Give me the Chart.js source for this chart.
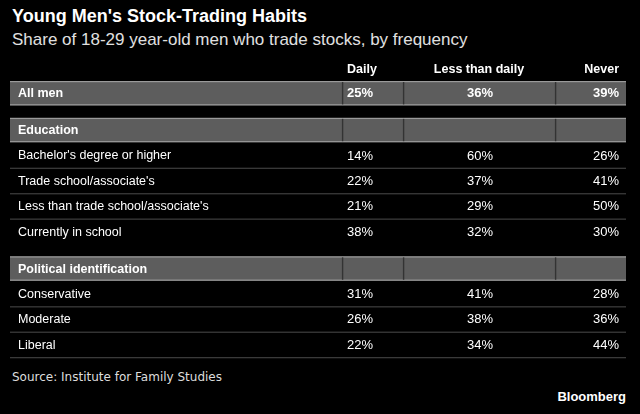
<!DOCTYPE html>
<html><head><meta charset="utf-8">
<script src="https://cdn.jsdelivr.net/npm/chart.js@4"></script>
<style>
html,body{margin:0;padding:0;background:#000;}
#wrap{position:relative;width:640px;height:414px;background:#000;overflow:hidden;font-family:"Liberation Sans",Arial,sans-serif;}
#t{position:absolute;left:12px;top:6px;color:#fff;font-size:18px;font-weight:bold;}
#s{position:absolute;left:12px;top:30px;color:#e0e0e0;font-size:17px;font-family:"Liberation Sans";}
#src{position:absolute;left:12px;top:370px;color:#ddd;font-size:12px;font-family:"DejaVu Sans";}
#bb{position:absolute;right:14px;top:389px;color:#fff;font-size:13px;font-weight:bold;}
canvas{position:absolute;left:0;top:0;}
</style></head><body>
<div id="wrap">
<div id="t">Young Men's Stock-Trading Habits</div>
<div id="s">Share of 18-29 year-old men who trade stocks, by frequency</div>
<div id="src">Source: Institute for Family Studies</div>
<div id="bb">Bloomberg</div>
<div style="position:absolute;left:0;top:0;width:640px;height:414px"><canvas id="c"></canvas></div>
</div>
<script>
const columns = ["Daily", "Less than daily", "Never"];
const rowLabels = ["All men","Education","Bachelor's degree or higher","Trade school/associate's","Less than trade school/associate's","Currently in school","Political identification","Conservative","Moderate","Liberal"];
const rowGroups = [0,1,1,1,1,1,2,2,2,2];
const rowIsBand = [true,true,false,false,false,false,true,false,false,false];
const daily = [25,null,14,22,21,38,null,31,26,22];
const lessThanDaily = [36,null,60,37,29,32,null,41,38,34];
const never = [39,null,26,41,50,30,null,28,36,44];

const rowPos = rowLabels.map((_,i)=>i+rowGroups[i]*0.45);

const tablePlugin={id:'table',afterDraw(chart){
  const ctx=chart.ctx, x=chart.scales.x, y=chart.scales.y;
  const unit=Math.abs(y.getPixelForValue(1)-y.getPixelForValue(0));
  const L=x.getPixelForValue(10), R=x.getPixelForValue(626);
  const seps=[342.5,403.5,555.5].map(v=>x.getPixelForValue(v));
  ctx.save();
  ctx.fillStyle='#fff';ctx.font='bold 12.5px "Liberation Sans"';ctx.textBaseline='middle';
  const hy=y.getPixelForValue(-0.95);
  ctx.textAlign='left';ctx.fillText(columns[0],x.getPixelForValue(347),hy);
  ctx.textAlign='center';ctx.fillText(columns[1],x.getPixelForValue(479),hy);
  ctx.textAlign='right';ctx.fillText(columns[2],x.getPixelForValue(619),hy);
  rowLabels.forEach((lab,i)=>{
    const cy=y.getPixelForValue(rowPos[i]);
    const top=cy-unit/2, h=unit-1;
    if(rowIsBand[i]){
      ctx.fillStyle='#5d5d5d';ctx.fillRect(L,top,R-L,h);
      ctx.fillStyle='#9a9a9a';ctx.fillRect(L,top,R-L,1.2);ctx.fillRect(L,top+h-1.2,R-L,1.2);
      ctx.fillStyle='#333';seps.forEach(s=>ctx.fillRect(s-0.6,top+1,1.4,h-2));
    } else if(i===rowLabels.length-1 || !rowIsBand[i+1]){
      ctx.fillStyle='#3a3a3a';ctx.fillRect(L,cy+unit/2-1,R-L,1.3);
    }
    ctx.fillStyle='#fff';
    ctx.font=(rowIsBand[i]?'bold ':'')+'12.5px "Liberation Sans"';
    ctx.textAlign='left';ctx.fillText(lab,x.getPixelForValue(18),cy);
    ctx.font=(i===0?'bold ':'')+'13px "Liberation Sans"';
    if(daily[i]!=null){ctx.textAlign='left';ctx.fillText(daily[i]+'%',x.getPixelForValue(347),cy);}
    if(lessThanDaily[i]!=null){ctx.textAlign='center';ctx.fillText(lessThanDaily[i]+'%',x.getPixelForValue(480),cy);}
    if(never[i]!=null){ctx.textAlign='right';ctx.fillText(never[i]+'%',x.getPixelForValue(619),cy);}
  });
  ctx.restore();
}};

new Chart(document.getElementById('c'),{
  type:'scatter',
  data:{datasets:[{data:rowPos.map(p=>({x:0,y:p})),pointRadius:0,showLine:false}]},
  options:{responsive:true,maintainAspectRatio:false,animation:false,
    layout:{padding:{top:81,bottom:56,left:0,right:0}},
    plugins:{legend:{display:false},tooltip:{enabled:false}},
    scales:{x:{type:'linear',min:0,max:640,display:false},
            y:{type:'linear',min:-0.5,max:10.4,reverse:true,display:false}}},
  plugins:[tablePlugin]
});
</script>
</body></html>
